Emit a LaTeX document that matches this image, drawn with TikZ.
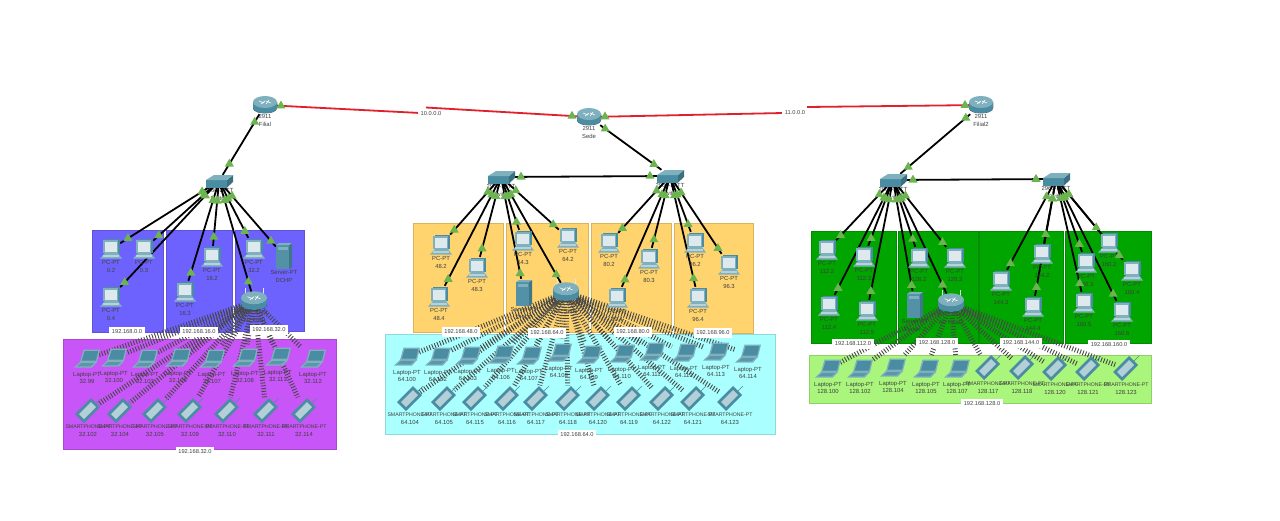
\documentclass[tikz,border=0pt]{standalone}
\usepackage{fontspec}
\setmainfont{Liberation Sans}
\usetikzlibrary{positioning,calc,shapes.geometric}

\definecolor{frame}{HTML}{7FB0BE}
\definecolor{deep}{HTML}{4A8CA2}
\definecolor{pale}{HTML}{DDE9EC}
\definecolor{lamp}{HTML}{6CB450}
\definecolor{redlink}{HTML}{E0202A}

\pgfdeclarelayer{zones}
\pgfdeclarelayer{wires}
\pgfsetlayers{zones,wires,main}

\tikzset{
  hub/.style={inner sep=0pt,minimum width=22pt,minimum height=12pt},
  gate/.style={inner sep=0pt,minimum width=22pt,minimum height=18pt},
  pcnode/.style={inner sep=0pt,minimum width=18pt,minimum height=22pt},
  lapnode/.style={inner sep=0pt,minimum width=24pt,minimum height=26pt},
  phonenode/.style={inner sep=0pt,minimum width=20pt,minimum height=27pt},
  tower/.style={inner sep=0pt,minimum width=16pt,minimum height=28pt},
  devtxt/.style={inner sep=0pt,align=center,text=black!75,font=\fontsize{5.9}{7.5}\selectfont},
  netlbl/.style={fill=white,inner xsep=2.5pt,inner ysep=2.5pt,text=black!75,font=\fontsize{5.7}{7}\selectfont},
  wire/.style={line width=1.8pt,black},
  redwire/.style={line width=1.8pt,redlink},
  radio/.style={line width=5pt,black!72,dash pattern=on .9pt off 1.9pt},
  tick/.style={regular polygon,regular polygon sides=3,inner sep=0pt,minimum size=10.5pt,fill=lamp},
  zone/.style={draw=#1!85!black,line width=.4pt,fill=#1},
  pcico/.pic={
    \fill[deep] (-6,-10) -- (9,-10) -- (9,4) -- (-6,4) -- cycle;
    \fill[frame] (-8,-9) rectangle (7,4);
    \fill[pale] (-6.5,-7.5) rectangle (5.5,2.5);
    \fill[frame] (-6,4) -- (7,4) -- (11,9.5) -- (-11,9.5) -- cycle;
    \fill[pale!60!frame] (-8.5,6) rectangle (8,7.5);
  },
  lapico/.pic={
    \fill[frame] (-3.5,-9.5) -- (13,-9.5) -- (10,3) -- (-7,3) -- cycle;
    \fill[deep] (-2.3,-8) -- (11.3,-8) -- (8.9,1.7) -- (-5.3,1.7) -- cycle;
    \fill[frame] (-7,3) -- (10,3) -- (5,8.5) -- (-13,8.5) -- cycle;
    \fill[deep!70!frame] (-6,4.2) -- (7,4.2) -- (3.5,7.3) -- (-10,7.3) -- cycle;
  },
  phoneico/.pic={
    \fill[deep] (-13,3) -- (3,-13) -- (12,-4) -- (-4,12) -- cycle;
    \fill[frame!45!pale] (-9,3) -- (3,-9) -- (8,-4) -- (-4,8) -- cycle;
    \draw[deep,line width=.5pt] (8,-8) -- (13,-13);
  },
  routerico/.pic={
    \fill[left color=deep,middle color=pale,right color=deep] (-12,-3) -- (-12,3) .. controls (-12,10) and (12,10) .. (12,3) -- (12,-3) -- cycle;
    \fill[frame] (0,-3) ellipse [x radius=12pt,y radius=6pt];
    \draw[white,line width=.6pt] (-6,-4) -- (-1,-2) (1,-4) -- (6,-2) (-4,-1) -- (0,-4) (1,-1) -- (4,-5);
  },
  wifiico/.pic={
    \draw[pale,line width=.8pt] (-9,-3) -- (-9,-13) (9,-3) -- (9,-13);
    \pic[scale=1.08] {routerico};
  },
  switchico/.pic={
    \fill[deep] (-13,-1) rectangle (8,6.5);
    \fill[deep!80!black] (8,-1) -- (14,-6) -- (14,1) -- (8,6.5) -- cycle;
    \fill[frame] (-13,-1) -- (-5,-6) -- (14,-6) -- (8,-1) -- cycle;
  },
  serverico/.pic={
    \fill[deep!85!frame] (-8,-11) rectangle (5,13);
    \fill[deep!85!black] (5,-11) -- (8,-13) -- (8,11) -- (5,13) -- cycle;
    \fill[frame] (-8,-11) -- (-5,-13) -- (8,-13) -- (5,-11) -- cycle;
    \fill[frame] (-6.5,-9) rectangle (3.5,-6.5);
  },
}

\newcommand{\wired}[2]{%
  \begin{pgfonlayer}{wires}\draw[wire] (#1) -- (#2);\end{pgfonlayer}
  \node[tick] (#1-#2-a) at ($(#1)!20pt!(#2)$) {};
  \node[tick] (#1-#2-b) at ($(#2)!20pt!(#1)$) {};
}
\newcommand{\radiod}[2]{%
  \begin{pgfonlayer}{wires}\draw[radio] (#1) -- (#2);\end{pgfonlayer}
}

\newcommand{\pclist}{
  p02/111/249/0.2/swl, p03/144/249/0.3/swl, p04/111/297/0.4/swl,
  p163/185/292/16.3/swl, p162/212/257/16.2/swl, p322/254/249/32.2/swl,
  p482/441/245/48.2/swa, p483/477/268/48.3/swa, p484/439/297/48.4/swa,
  p643/523/241/64.3/swa, p642/568/238/64.2/swa,
  p802/609/243/80.2/swb, p803/649/259/80.3/swb, p804/617/298/80.4/swb,
  p962/695/243/96.2/swb, p963/729/265/96.3/swb, p964/698/298/96.4/swb,
  p1122/827/250/112.2/swc, p1123/864/257/112.3/swc, p1124/829/306/112.4/swc, p1125/867/311/112.5/swc,
  p1282/919/258/128.2/swc, p1283/955/258/128.3/swc,
  p1443/1001/281/144.3/swd, p1442/1042/254/144.2/swd, p1444/1033/307/144.4/swd,
  p1602/1109/243/160.2/swd, p1603/1086/263/160.3/swd, p1604/1132/271/160.4/swd,
  p1605/1084/303/160.5/swd, p1606/1122/312/160.6/swd}

\newcommand{\laplist}{
  l3299/87/359/32.99/apl, l32100/114/358/32.100/apl, l32103/145/359/32.103/apl, l32106/178/358/32.106/apl,
  l32107/212/359/32.107/apl, l32108/245/358/32.108/apl, l32113/278/357/32.113/apl, l32112/313/359/32.112/apl,
  l64100/407/357/64.100/apm, l64102/438/357/64.102/apm, l64103/468/356/64.103/apm, l64106/501/355/64.106/apm,
  l64107/529/356/64.107/apm, l64108/559/353/64.108/apm, l64109/589/355/64.109/apm, l64110/622/354/64.110/apm,
  l64111/652/352/64.111/apm, l64112/684/353/64.112/apm, l64113/716/352/64.113/apm, l64114/748/354/64.114/apm,
  l128100/828/369/128.100/apr, l128102/860/369/128.102/apr, l128104/893/368/128.104/apr,
  l128105/926/369/128.105/apr, l128107/957/369/128.107/apr}

\newcommand{\phonelist}{
  m32102/88/411/32.102/apl, m32104/120/411/32.104/apl, m32105/155/411/32.105/apl, m32109/190/411/32.109/apl,
  m32110/227/411/32.110/apl, m32111/266/411/32.111/apl, m32114/304/411/32.114/apl,
  m64104/410/399/64.104/apm, m64105/444/399/64.105/apm, m64115/475/399/64.115/apm, m64116/507/399/64.116/apm,
  m64117/536/399/64.117/apm, m64118/568/399/64.118/apm, m64120/598/399/64.120/apm, m64119/629/399/64.119/apm,
  m64122/662/399/64.122/apm, m64121/693/399/64.121/apm, m64123/730/399/64.123/apm,
  m128117/988/368/128.117/apr, m128118/1022/368/128.118/apr, m128120/1055/369/128.120/apr,
  m128121/1088/369/128.121/apr, m128123/1126/369/128.123/apr}

\begin{document}
\begin{tikzpicture}[x=1pt,y=-1pt]
  \useasboundingbox (0,0) rectangle (1280,520);

  \begin{pgfonlayer}{zones}
    \foreach \xa/\ya/\xb/\yb/\col in {
      92/230/163/332/6E62FF, 166/230/232/332/6E62FF, 235/230/304/331/6E62FF,
      413/223/503/332/FFD46E, 506/223/588/332/FFD46E, 591/223/671/332/FFD46E, 674/223/753/333/FFD46E,
      811/231/896/343/00A500, 898/231/978/343/00A500, 979/231/1063/343/00A500, 1065/231/1151/343/00A500,
      63/339/336/449/C855F7, 385/334/775/434/AAFFFF, 809/355/1151/403/AAF57C}{
      \definecolor{zonecol}{HTML}{\col}
      \fill[zone=zonecol] (\xa,\ya) rectangle (\xb,\yb);
    }
  \end{pgfonlayer}

  % routers
  \node[gate] (fil) at (265,105) {};
  \node[gate] (sede) at (589,117) {};
  \node[gate] (fil2) at (981,105) {};
  \pic at (fil) {routerico};
  \pic at (sede) {routerico};
  \pic at (fil2) {routerico};
  \node[devtxt,below=0pt of fil] (fil-t) {2911\\Filial};
  \node[devtxt,below=0pt of sede] (sede-t) {2911\\Sede};
  \node[devtxt,below=0pt of fil2] (fil2-t) {2911\\Filial2};

  % switches
  \foreach \n/\x/\y in {swl/219/181,swa/501/177,swb/670/176,swc/893/180,swd/1056/179}{
    \node[hub] (\n) at (\x,\y) {};
    \pic at (\n) {switchico};
    \begin{pgfonlayer}{wires}
      \node[devtxt,below=1pt of \n] (\n-t) {2960-24TT\\Switch};
    \end{pgfonlayer}
  }

  % red links
  \coordinate (k1) at (420,113);
  \coordinate (k2) at (426,107.5);
  \coordinate (k3) at (783,113);
  \coordinate (k4) at (807,107);
  \begin{pgfonlayer}{wires}
    \draw[redwire] (fil) -- (k1);
    \draw[redwire] (k2) -- (sede);
    \draw[redwire] (sede) -- (k3);
    \draw[redwire] (k4) -- (fil2);
  \end{pgfonlayer}
  \node[tick] (fil-k1) at ($(fil)!16pt!(k1)$) {};
  \node[tick] (sede-k2) at ($(sede)!17pt!(k2)$) {};
  \node[tick] (sede-k3) at ($(sede)!16pt!(k3)$) {};
  \node[tick] (fil2-k4) at ($(fil2)!16pt!(k4)$) {};
  \node[netlbl,inner ysep=1pt] (net10) at (431,114) {10.0.0.0};
  \node[netlbl,inner ysep=1pt] (net11) at (795,113) {11.0.0.0};

  \wired{fil}{swl}
  \wired{sede}{swb}
  \wired{fil2}{swc}
  \wired{swa}{swb}
  \wired{swc}{swd}

  % access points
  \foreach \n/\x/\y/\t/\sw in {apl/254/301/AP Filial/swl,apm/566/292/AP Sede/swa,apr/951/303/AP Filial2/swc}{
    \node[gate] (\n) at (\x,\y) {};
    \pic at (\n) {wifiico};
    \begin{pgfonlayer}{wires}
      \node[devtxt,below=0pt of \n] (\n-t) {WRT300N\\\t};
    \end{pgfonlayer}
    \wired{\sw}{\n}
  }

  % servers
  \foreach \n/\x/\y/\t/\sw in {srvl/284/256/DCHP/swl,srvm/524/293/DHCP/swa,srvr/915/305/Server-2/swc}{
    \node[tower] (\n) at (\x,\y) {};
    \pic at (\n) {serverico};
    \node[devtxt,below=0pt of \n] (\n-t) {Server-PT\\\t};
    \wired{\sw}{\n}
  }

  % desktops
  \foreach \n/\x/\y/\t/\sw in \pclist{
    \node[pcnode] (\n) at (\x,\y) {};
    \pic at (\n) {pcico};
    \node[devtxt,below=0pt of \n] (\n-t) {PC-PT\\\t};
    \wired{\sw}{\n}
  }

  % wireless clients
  \foreach \n/\x/\y/\t/\ap in \laplist{
    \node[lapnode] (\n) at (\x,\y) {};
    \pic at (\n) {lapico};
    \node[devtxt,below=0pt of \n] (\n-t) {Laptop-PT\\\t};
    \radiod{\ap}{\n}
  }
  \foreach \n/\x/\y/\t/\ap in \phonelist{
    \node[phonenode] (\n) at (\x,\y) {};
    \pic at (\n) {phoneico};
    \node[devtxt,below=0pt of \n] (\n-t) {{\fontsize{5.2}{7.5}\selectfont SMARTPHONE-PT}\\\t};
    \radiod{\ap}{\n}
  }

  % network labels
  \foreach \n/\x/\y/\t in {
    n0/127/332/192.168.0.0, n16/199/332/192.168.16.0, n32/269/330/192.168.32.0, n32w/195/452/192.168.32.0,
    n48/461/332/192.168.48.0, n64/547/333/192.168.64.0, n80/633/332/192.168.80.0, n96/713/333/192.168.96.0, n64w/577/435/192.168.64.0,
    n112/853/344/192.168.112.0, n128/937/343/192.168.128.0, n144/1021/343/192.168.144.0, n160/1109/345/192.168.160.0, n128w/982/404/192.168.128.0}{
    \node[netlbl] (\n) at (\x,\y) {\t};
  }
\end{tikzpicture}
\end{document}
